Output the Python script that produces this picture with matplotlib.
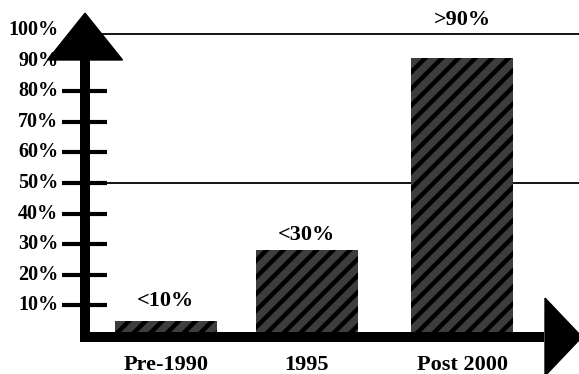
import matplotlib.pyplot as plt
from matplotlib.patches import Polygon

plt.rcParams['font.family'] = ['Liberation Serif', 'DejaVu Serif']
plt.rcParams['font.weight'] = 'bold'
plt.rcParams['hatch.linewidth'] = 3.2

categories = ['Pre-1990', '1995', 'Post 2000']
shares = [5, 28, 91]
share_labels = ['<10%', '<30%', '>90%']
label_offsets = [7, 4, 20]           # points above each bar top
tick_values = [10, 20, 30, 40, 50, 60, 70, 80, 90, 100]
guide_lines = [50, 98.7]

positions = [0, 1, 2.1]
bar_width = 0.72

fig = plt.figure(figsize=(5.79, 3.74), dpi=100)
ax = fig.add_axes([0, 0, 1, 1])
ax.set_xlim(-1.177, 2.929)
ax.set_ylim(-12.4, 109.8)
ax.axis('off')

# thin horizontal guides at 50% and 100%
ax.axhline(guide_lines[0], xmin=0.185, xmax=1, color='black', lw=1.3, zorder=1)
ax.axhline(guide_lines[1], xmin=0.178, xmax=1, color='black', lw=1.3, zorder=1)

bars = ax.bar(positions, shares, width=bar_width, color='#3d3d3d',
              edgecolor='black', linewidth=0, hatch='//', zorder=2)

for x, v, txt, off in zip(positions, shares, share_labels, label_offsets):
    ax.annotate(txt, (x, v), xytext=(0, off), textcoords='offset points',
                ha='center', va='bottom', fontsize=16, fontweight='bold')

# hand-drawn style axes: thick shafts with arrow heads
ax_x = -0.574       # x of the vertical shaft
base_y = -0.3       # y of the horizontal shaft
ax.plot([ax_x, ax_x], [base_y - 1.6, 91], color='black', lw=7.2,
        solid_capstyle='butt', zorder=3)
ax.plot([ax_x - 0.035, 2.68], [base_y, base_y], color='black', lw=7.2,
        solid_capstyle='butt', zorder=3)
ax.add_patch(Polygon([[ax_x - 0.266, 90.2], [ax_x + 0.266, 90.2], [ax_x, 105.5]],
                     closed=True, color='black', zorder=4))
ax.add_patch(Polygon([[2.688, 12.4], [2.688, -13.0], [2.95, base_y]],
                     closed=True, color='black', zorder=4, clip_on=False))

# tick marks crossing the vertical shaft
for t in tick_values:
    if t <= 80:
        ax.plot([ax_x - 0.163, ax_x + 0.156], [t, t], color='black', lw=3,
                solid_capstyle='butt', zorder=3)
    ax.text(ax_x - 0.19, t, f'{t}%', ha='right', va='center',
            fontsize=14.5, fontweight='bold')

for x, name in zip(positions, categories):
    ax.text(x, -9.3, name, ha='center', va='center', fontsize=16,
            fontweight='bold')

fig.savefig('out.png', dpi=100)
